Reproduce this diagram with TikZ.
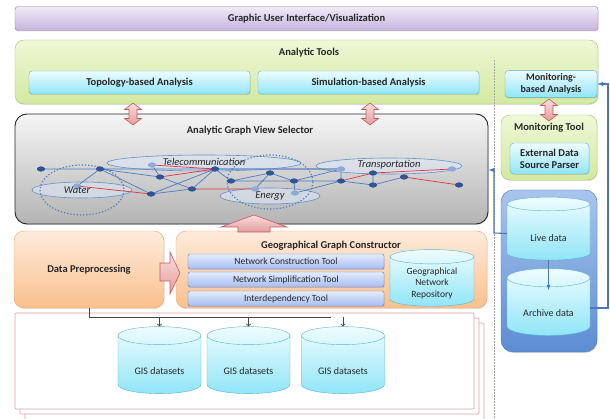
\documentclass[tikz,border=0pt]{standalone}
\usepackage{fontspec}
\setmainfont{Carlito}
\usetikzlibrary{shapes.geometric,shadows}

% palette
\definecolor{guitop}{HTML}{F1EBF8}
\definecolor{guibot}{HTML}{C6B3DE}
\definecolor{guiline}{HTML}{8A7AA6}
\definecolor{greentop}{HTML}{EFF8D6}
\definecolor{greenbot}{HTML}{D3E9A0}
\definecolor{greenline}{HTML}{A4C36A}
\definecolor{cyantop}{HTML}{EEFCFF}
\definecolor{cyanbot}{HTML}{90E5F7}
\definecolor{cyanline}{HTML}{58B4CF}
\definecolor{graytop}{HTML}{F5F5F5}
\definecolor{graybot}{HTML}{B4B4B4}
\definecolor{orangetop}{HTML}{FEEBDC}
\definecolor{orangebot}{HTML}{FAC08C}
\definecolor{orangeline}{HTML}{EFA467}
\definecolor{tooltop}{HTML}{E4ECFC}
\definecolor{toolbot}{HTML}{A6BCF2}
\definecolor{toolline}{HTML}{5878CF}
\definecolor{conttop}{HTML}{A8C5EE}
\definecolor{contbot}{HTML}{5C8CD2}
\definecolor{contline}{HTML}{4874B8}
\definecolor{pinktop}{HTML}{FADEDE}
\definecolor{pinkbot}{HTML}{E29C9B}
\definecolor{pinkline}{HTML}{C35C5A}
\definecolor{pageline}{HTML}{DDA3A2}
\definecolor{wire}{HTML}{4A78B8}
\definecolor{netblue}{HTML}{4D7CC0}
\definecolor{netred}{HTML}{E2343A}
\definecolor{dotdark}{HTML}{2F5597}
\definecolor{dotlight}{HTML}{8EAADB}
\definecolor{layerfill}{HTML}{DCE6F4}
\definecolor{ink}{HTML}{262626}

\tikzset{
  box/.style={draw, rounded corners=4pt, align=center, text=ink,
    font=\bfseries\fontsize{10.5}{12}\selectfont,
    drop shadow={opacity=0.25, shadow xshift=0.6pt, shadow yshift=-1pt}},
  guibox/.style={box, draw=guiline, top color=guitop, bottom color=guibot, rounded corners=3pt},
  toolsbox/.style={box, draw=greenline, top color=greentop, bottom color=greenbot, rounded corners=9pt},
  anabox/.style={box, draw=cyanline, top color=cyantop, bottom color=cyanbot, rounded corners=3pt},
  viewbox/.style={box, draw=ink, line width=0.9pt, top color=graytop, bottom color=graybot, rounded corners=12pt},
  prepbox/.style={box, draw=orangeline, top color=orangetop, bottom color=orangebot, rounded corners=10pt},
  netbox/.style={box, draw=toolline, top color=tooltop, bottom color=toolbot, rounded corners=2pt,
    font=\fontsize{9.5}{11}\selectfont},
  contbox/.style={box, draw=contline, top color=conttop, bottom color=contbot, rounded corners=12pt},
  store/.style={cylinder, shape border rotate=90, aspect=0.32, draw=cyanline, align=center, text=ink,
    top color=cyantop, bottom color=cyanbot, font=\fontsize{10}{11.5}\selectfont},
  lowtext/.style={text height=17pt, text depth=1pt},
  title/.style={text=ink, font=\bfseries\fontsize{10.5}{12}\selectfont},
  arrowpaint/.style={draw=pinkline, line width=0.6pt, top color=pinktop, bottom color=pinkbot},
  page/.style={draw=pageline, line width=0.7pt, fill=white, rounded corners=1pt},
  feed/.style={draw=ink!85, line width=0.8pt},
  link/.style={draw=wire, line width=1.1pt},
  % network sketch
  gdot/.style={ellipse, fill=dotdark, inner sep=0pt, minimum width=8pt, minimum height=5pt},
  gpale/.style={ellipse, fill=dotlight, inner sep=0pt, minimum width=8pt, minimum height=5pt},
  gb/.style={netblue, line width=0.7pt},
  gr/.style={netred, line width=0.7pt},
  layer/.style={draw=netblue!85, fill=layerfill, fill opacity=0.6, line width=0.6pt},
  zone/.style={draw=netblue, dotted, line width=1.2pt},
  layername/.style={text=ink, font=\itshape\fontsize{10.5}{12}\selectfont},
  % block arrows, drawn round (0,0)
  updown/.pic={\path[arrowpaint] (0,-11) -- (8.5,-4.5) -- (4,-4.5) -- (4,4.5) -- (8.5,4.5) -- (0,11)
      -- (-8.5,4.5) -- (-4,4.5) -- (-4,-4.5) -- (-8.5,-4.5) -- cycle;},
  rightward/.pic={\path[arrowpaint] (-10,-9) -- (0,-9) -- (0,-20) -- (10,1) -- (0,22) -- (0,9) -- (-10,9) -- cycle;},
  upward/.pic={\path[arrowpaint] (0,-8) -- (33,4) -- (16,4) -- (16,9) -- (-16,9) -- (-16,4) -- (-33,4) -- cycle;}
}

\begin{document}
\begin{tikzpicture}[x=1pt,y=-1pt]
  \useasboundingbox (0,0) rectangle (610,419);

  % top bar
  \node[guibox, minimum width=583pt, minimum height=24pt] (gui) at (306.5,18.5) {Graphic User Interface/Visualization};

  % analytic tools
  \node[toolsbox, minimum width=583pt, minimum height=64pt] (tools) at (306.5,72) {};
  \node[title] (toolstitle) at (309,53) {Analytic Tools};
  \node[anabox, minimum width=221pt, minimum height=23pt] (topo) at (139.5,82.5) {Topology-based Analysis};
  \node[anabox, minimum width=221pt, minimum height=23pt] (simu) at (368.5,82.5) {Simulation-based Analysis};
  \node[anabox, minimum width=92pt, minimum height=25pt, font=\bfseries\fontsize{10}{11.5}\selectfont] (moni) at (551,84) {Monitoring-\\based Analysis};
  \draw[gray!70, densely dotted, line width=0.5pt] (494,60) -- (494,419);

  % graph view selector
  \node[viewbox, minimum width=473pt, minimum height=110pt] (view) at (251.5,169) {};
  \node[title] (viewtitle) at (250,131) {Analytic Graph View Selector};

  % layers of the network
  \draw[layer] (204,163) ellipse (97 and 8);
  \draw[layer] (389,166) ellipse (73 and 8);
  \draw[layer] (82,190) ellipse (50 and 8);
  \draw[layer] (270,196) ellipse (50 and 8);
  \draw[zone] (82,190) ellipse (42 and 25);
  \draw[zone] (270,182) ellipse (43 and 27);

  \node[gdot] (g1) at (41,169) {};
  \node[gdot] (g2) at (100,169) {};
  \node[gpale] (g3) at (152,165) {};
  \node[gdot] (g4) at (160,177) {};
  \node[gdot] (g5) at (215,169) {};
  \node[gdot] (g6) at (151,194) {};
  \node[gdot] (g7) at (192,189) {};
  \node[gdot] (g8) at (231,181) {};
  \node[gdot] (g9) at (270,173) {};
  \node[gdot] (g10) at (294,181) {};
  \node[gpale] (g11) at (295,193) {};
  \node[gpale] (g12) at (255,189) {};
  \node[gpale] (g13) at (341,169) {};
  \node[gdot] (g14) at (341,181) {};
  \node[gdot] (g15) at (373,173) {};
  \node[gdot] (g16) at (373,185) {};
  \node[gdot] (g17) at (404,177) {};
  \node[gpale] (g18) at (452,169) {};
  \node[gdot] (g19) at (459,185) {};
  \node[gpale] (gw) at (77,186) {};

  \draw[gb] (g1) -- (g2) -- (gw);
  \draw[gb] (g2) -- (g4) (g2) -- (g6) (g2) -- (g13);
  \draw[gb] (g3) -- (g4) -- (g7) -- (g5) (g6) -- (g5) (g6) -- (g7);
  \draw[gb] (g5) -- (g8) -- (g9) -- (g10) -- (g8) (g9) -- (g12);
  \draw[gb] (g10) -- (g11) (g10) -- (g13) -- (g14) -- (g10) (g11) -- (g14);
  \draw[gb] (g14) -- (g16) -- (g15) (g16) -- (g17) (g5) -- (g13);
  \draw[gr] (gw) -- (g6) (g3) -- (g5) (g4) -- (g5) (g7) -- (g12);
  \draw[gr] (g14) -- (g15) -- (g18) (g17) -- (g19);
  % redraw dots over the wires
  \foreach \g in {g1,g2,g4,g5,g6,g7,g8,g9,g10,g14,g15,g16,g17,g19}
    \fill[dotdark] (\g) ellipse (4 and 2.5);
  \foreach \g in {g3,g11,g12,g13,g18,gw}
    \fill[dotlight] (\g) ellipse (4 and 2.5);

  \node[layername] (telecom) at (204,162) {Telecommunication};
  \node[layername] (transport) at (389,165) {Transportation};
  \node[layername] (water) at (77,190) {Water};
  \node[layername] (energy) at (270,196) {Energy};

  % monitoring side
  \node[toolsbox, minimum width=96pt, minimum height=65pt] (montool) at (549,147.5) {};
  \node[title] (montitle) at (549,128) {Monitoring Tool};
  \node[anabox, minimum width=79pt, minimum height=31pt, rounded corners=4pt] (parser) at (549.5,158.5) {External Data\\Source Parser};
  \node[contbox, minimum width=96pt, minimum height=162pt] (cont) at (549,271) {};
  \node[store, lowtext, minimum width=83pt, minimum height=63pt] (live) at (548.5,233.5) {Live data};
  \node[store, lowtext, minimum width=83pt, minimum height=67pt] (archive) at (548.5,308.5) {Archive data};

  % bottom row
  \node[prepbox, minimum width=150pt, minimum height=77pt] (prep) at (89,269.5) {Data Preprocessing};
  \node[prepbox, minimum width=311pt, minimum height=77pt] (geo) at (331.5,269.5) {};
  \node[title] (geotitle) at (331,246) {Geographical Graph Constructor};
  \node[netbox, minimum width=196pt, minimum height=15pt] (build) at (286,261.5) {Network Construction Tool};
  \node[netbox, minimum width=196pt, minimum height=15pt] (simple) at (286,279.5) {Network Simplification Tool};
  \node[netbox, minimum width=196pt, minimum height=15pt] (inter) at (286,298.5) {Interdependency Tool};
  \node[store, minimum width=84pt, minimum height=47pt, aspect=0.25, font=\fontsize{9.5}{11.5}\selectfont] (repo) at (432,283) {Geographical\\Network\\Repository};

  % stacked sheet of data sets
  \draw[page] (25,323) rectangle (484,421);
  \draw[page] (20,318) rectangle (479,414);
  \draw[page] (15,313) rectangle (474,409);
  \node[store, lowtext, minimum width=83pt, minimum height=67pt] (gis1) at (159.5,366.5) {GIS datasets};
  \node[store, lowtext, minimum width=83pt, minimum height=67pt] (gis2) at (248.5,366.5) {GIS datasets};
  \node[store, lowtext, minimum width=83pt, minimum height=67pt] (gis3) at (343,366.5) {GIS datasets};

  % block arrows
  \pic at (133,114) {updown};
  \pic at (370,114) {updown};
  \pic at (549,110) {updown};
  \pic at (170,272) {rightward};
  \pic at (254,223) {upward};

  % connectors
  \coordinate (bus) at (331,317);
  \draw[feed] (prep.south) |- (bus);
  \foreach \d in {gis1,gis2,gis3}
    \draw[feed, ->] (\d.north |- bus) -- (\d.north);
  \coordinate (liveturn) at (494,233);
  \draw[link, -latex] (live.west) -- (liveturn) -- (liveturn |- 0,170) -- (view.east |- 0,170);
  \coordinate (archturn) at (608,308);
  \draw[link, -latex] (archive.east |- archturn) -- (archturn) -- (archturn |- moni.east) -- (moni.east);
  \draw[link, -latex, line width=0.8pt] (live.south) -- (548.5,290);
\end{tikzpicture}
\end{document}
